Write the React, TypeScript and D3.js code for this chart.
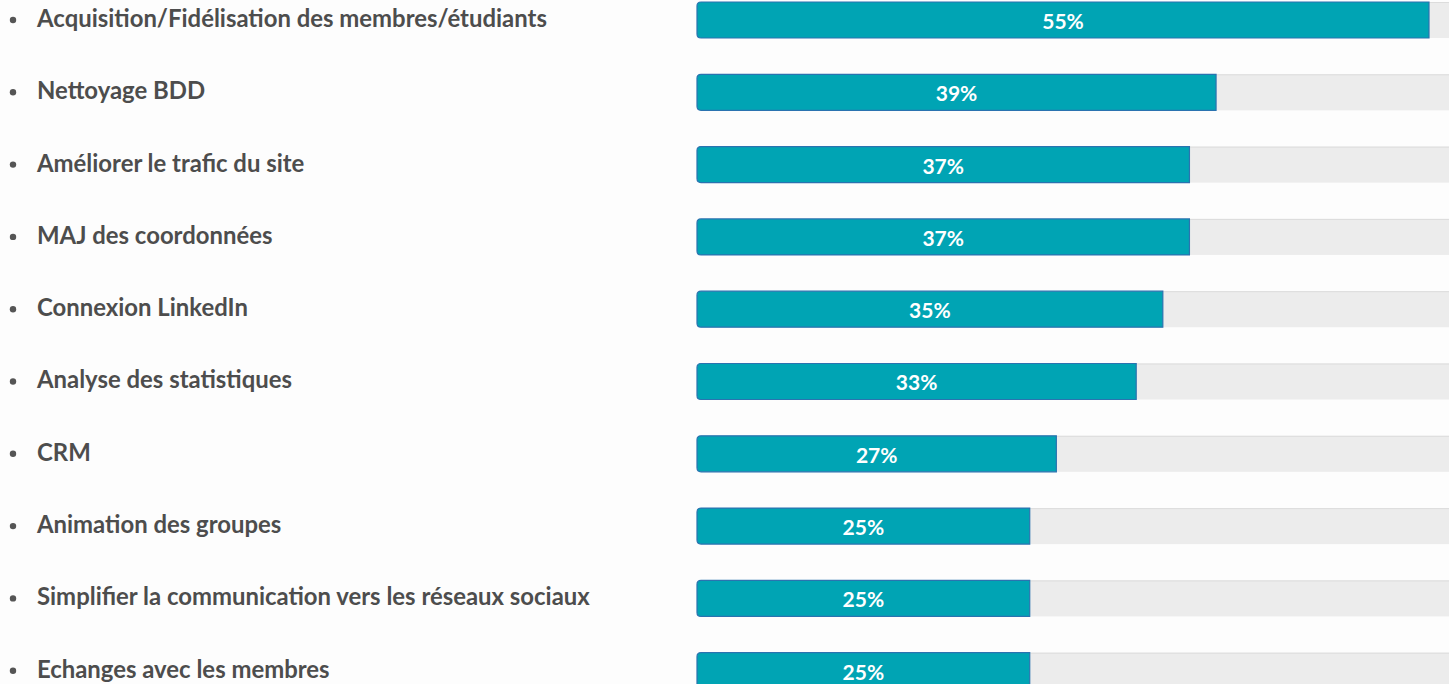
import React from "react";
import * as d3 from "d3";

const categories = [
  "Acquisition/Fidélisation des membres/étudiants",
  "Nettoyage BDD",
  "Améliorer le trafic du site",
  "MAJ des coordonnées",
  "Connexion LinkedIn",
  "Analyse des statistiques",
  "CRM",
  "Animation des groupes",
  "Simplifier la communication vers les réseaux sociaux",
  "Echanges avec les membres",
];
const values = [55, 39, 37, 37, 35, 33, 27, 25, 25, 25];

const W = 1449;
const H = 684;

export default function App() {
  const x = d3.scaleLinear().domain([0, 55]).range([697, 1429]);
  const y = d3
    .scaleBand()
    .domain(categories)
    .range([2, 2 + 9 * 72.3 + 36])
    .paddingInner(0.502)
    .paddingOuter(0);
  const barH = y.bandwidth();
  return (
    <svg
      width={W}
      height={H}
      style={{ position: "absolute", left: 0, top: 0, background: "#fdfdfd" }}
      fontFamily="Lato, 'Open Sans', sans-serif"
    >
      <rect x={0} y={0} width={W} height={H} fill="#fdfdfd" />
      {categories.map((c, i) => {
        const top = y(c) as number;
        const v = values[i];
        const x0 = x(0);
        const x1 = x(v);
        const r = 4;
        const path = `M${x0 + r},${top} H${x1} V${top + barH} H${x0 + r} Q${x0},${top + barH} ${x0},${top + barH - r} V${top + r} Q${x0},${top} ${x0 + r},${top} Z`;
        return (
          <g key={c}>
            <circle cx={13} cy={top + 18} r={3.2} fill="#555" />
            <text x={37} y={top + 25} fontSize={23.9} fontWeight={700} fill="#4d4d4d">
              {c}
            </text>
            <rect x={x0 + 2} y={top} width={W - x0} height={barH} fill="#ececec" />
            <line x1={x0 + 2} x2={W} y1={top + 0.5} y2={top + 0.5} stroke="#dcdcdc" strokeWidth={1} />
            <path d={path} fill="#00a4b4" stroke="#2a73b0" strokeWidth={1.2} />
            <text
              x={(x0 + x1) / 2}
              y={top + 27}
              fontSize={21}
              fontWeight={700}
              fill="#ffffff"
              textAnchor="middle"
            >
              {v}%
            </text>
          </g>
        );
      })}
    </svg>
  );
}
